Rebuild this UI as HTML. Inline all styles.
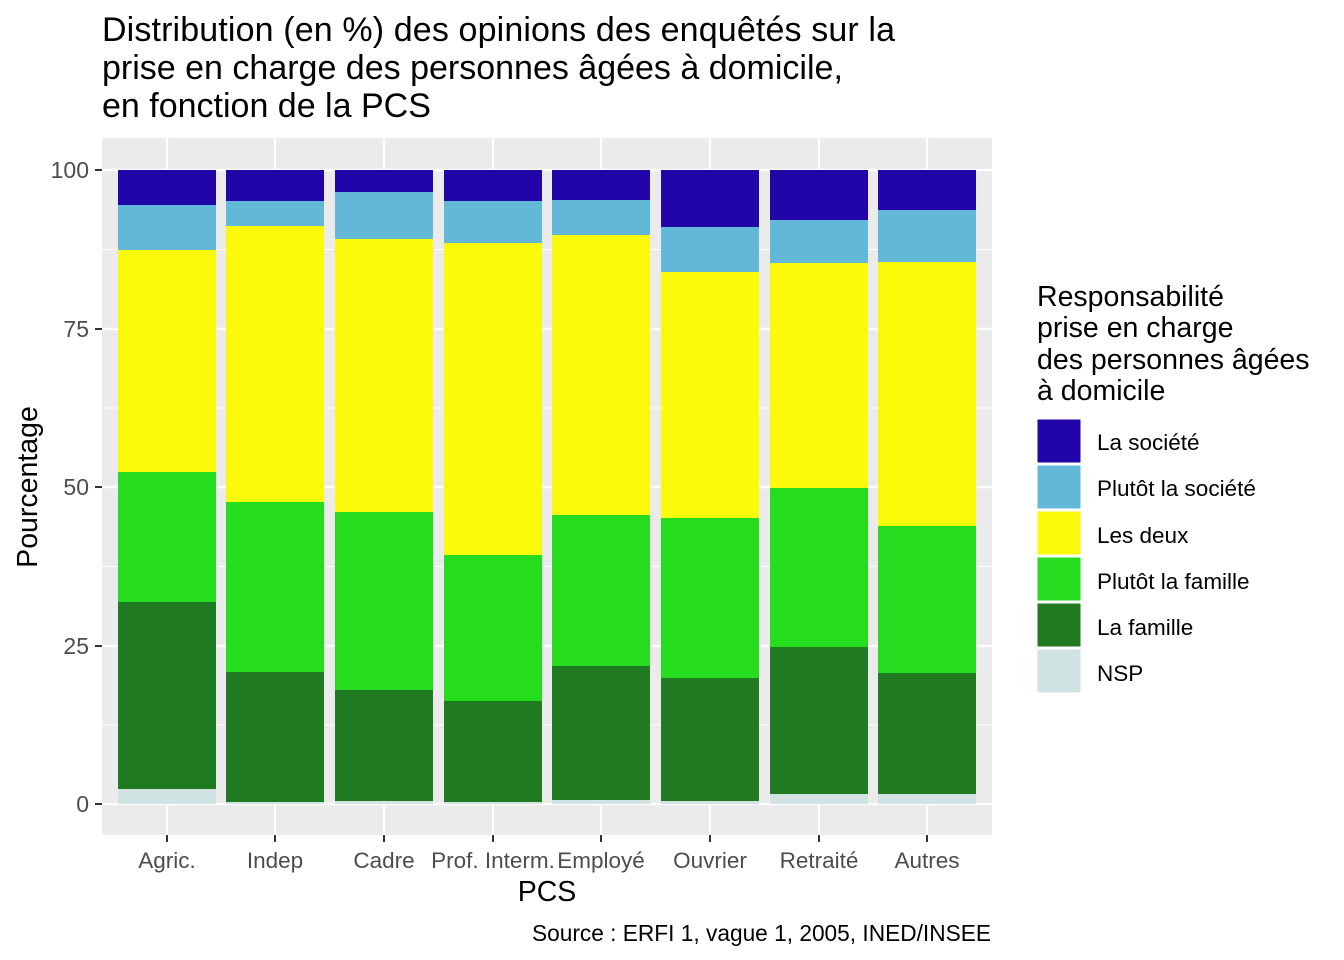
<!DOCTYPE html>
<html><head><meta charset="utf-8"><style>body{margin:0;background:#fff}svg{display:block;font-family:"Liberation Sans",sans-serif}</style></head><body>
<svg width="1344" height="960" xmlns="http://www.w3.org/2000/svg">
<rect width="1344" height="960" fill="#fff"/>
<text x="102" y="41" font-size="34" textLength="793">Distribution (en %) des opinions des enquêtés sur la</text>
<text x="102" y="79" font-size="34">prise en charge des personnes âgées à domicile,</text>
<text x="102" y="117" font-size="34">en fonction de la PCS</text>
<rect x="102" y="138" width="890" height="697" fill="#EBEBEB"/>
<g stroke="#fff" stroke-width="1.1">
<line x1="102" x2="992" y1="249.5" y2="249.5"/><line x1="102" x2="992" y1="408" y2="408"/><line x1="102" x2="992" y1="566.5" y2="566.5"/><line x1="102" x2="992" y1="725" y2="725"/>
</g>
<g stroke="#fff" stroke-width="2.2">
<line x1="102" x2="992" y1="170" y2="170"/><line x1="102" x2="992" y1="329" y2="329"/><line x1="102" x2="992" y1="487" y2="487"/><line x1="102" x2="992" y1="646" y2="646"/><line x1="102" x2="992" y1="804" y2="804"/>
<line y1="138" y2="835" x1="167" x2="167"/><line y1="138" y2="835" x1="275" x2="275"/><line y1="138" y2="835" x1="384" x2="384"/><line y1="138" y2="835" x1="493" x2="493"/><line y1="138" y2="835" x1="601" x2="601"/><line y1="138" y2="835" x1="710" x2="710"/><line y1="138" y2="835" x1="819" x2="819"/><line y1="138" y2="835" x1="927" x2="927"/>
</g>
<g>
<rect x="118" y="170" width="98" height="35" fill="#2205A8"/><rect x="118" y="205" width="98" height="45" fill="#63B8D8"/><rect x="118" y="250" width="98" height="222" fill="#FAFA0A"/><rect x="118" y="472" width="98" height="130" fill="#26DC1E"/><rect x="118" y="602" width="98" height="187" fill="#1F7A21"/><rect x="118" y="789" width="98" height="15" fill="#D0E2E2"/>
<rect x="226" y="170" width="98" height="31" fill="#2205A8"/><rect x="226" y="201" width="98" height="25" fill="#63B8D8"/><rect x="226" y="226" width="98" height="276" fill="#FAFA0A"/><rect x="226" y="502" width="98" height="170" fill="#26DC1E"/><rect x="226" y="672" width="98" height="130" fill="#1F7A21"/><rect x="226" y="802" width="98" height="2" fill="#D0E2E2"/>
<rect x="335" y="170" width="98" height="22" fill="#2205A8"/><rect x="335" y="192" width="98" height="47" fill="#63B8D8"/><rect x="335" y="239" width="98" height="273" fill="#FAFA0A"/><rect x="335" y="512" width="98" height="178" fill="#26DC1E"/><rect x="335" y="690" width="98" height="111" fill="#1F7A21"/><rect x="335" y="801" width="98" height="3" fill="#D0E2E2"/>
<rect x="444" y="170" width="98" height="31" fill="#2205A8"/><rect x="444" y="201" width="98" height="42" fill="#63B8D8"/><rect x="444" y="243" width="98" height="312" fill="#FAFA0A"/><rect x="444" y="555" width="98" height="146" fill="#26DC1E"/><rect x="444" y="701" width="98" height="101" fill="#1F7A21"/><rect x="444" y="802" width="98" height="2" fill="#D0E2E2"/>
<rect x="552" y="170" width="98" height="30" fill="#2205A8"/><rect x="552" y="200" width="98" height="35" fill="#63B8D8"/><rect x="552" y="235" width="98" height="280" fill="#FAFA0A"/><rect x="552" y="515" width="98" height="151" fill="#26DC1E"/><rect x="552" y="666" width="98" height="134" fill="#1F7A21"/><rect x="552" y="800" width="98" height="4" fill="#D0E2E2"/>
<rect x="661" y="170" width="98" height="57" fill="#2205A8"/><rect x="661" y="227" width="98" height="45" fill="#63B8D8"/><rect x="661" y="272" width="98" height="246" fill="#FAFA0A"/><rect x="661" y="518" width="98" height="160" fill="#26DC1E"/><rect x="661" y="678" width="98" height="123" fill="#1F7A21"/><rect x="661" y="801" width="98" height="3" fill="#D0E2E2"/>
<rect x="770" y="170" width="98" height="50" fill="#2205A8"/><rect x="770" y="220" width="98" height="43" fill="#63B8D8"/><rect x="770" y="263" width="98" height="225" fill="#FAFA0A"/><rect x="770" y="488" width="98" height="159" fill="#26DC1E"/><rect x="770" y="647" width="98" height="147" fill="#1F7A21"/><rect x="770" y="794" width="98" height="10" fill="#D0E2E2"/>
<rect x="878" y="170" width="98" height="40" fill="#2205A8"/><rect x="878" y="210" width="98" height="52" fill="#63B8D8"/><rect x="878" y="262" width="98" height="264" fill="#FAFA0A"/><rect x="878" y="526" width="98" height="147" fill="#26DC1E"/><rect x="878" y="673" width="98" height="121" fill="#1F7A21"/><rect x="878" y="794" width="98" height="10" fill="#D0E2E2"/>
</g>
<g font-size="23" fill="#4D4D4D" text-anchor="end">
<text x="89" y="178">100</text><text x="89" y="337">75</text><text x="89" y="495">50</text><text x="89" y="654">25</text><text x="89" y="812">0</text>
</g>
<g stroke="#333" stroke-width="2">
<line x1="95" x2="102" y1="170" y2="170"/><line x1="95" x2="102" y1="329" y2="329"/><line x1="95" x2="102" y1="487" y2="487"/><line x1="95" x2="102" y1="646" y2="646"/><line x1="95" x2="102" y1="804" y2="804"/>
<line y1="835" y2="842" x1="167" x2="167"/><line y1="835" y2="842" x1="275" x2="275"/><line y1="835" y2="842" x1="384" x2="384"/><line y1="835" y2="842" x1="493" x2="493"/><line y1="835" y2="842" x1="601" x2="601"/><line y1="835" y2="842" x1="710" x2="710"/><line y1="835" y2="842" x1="819" x2="819"/><line y1="835" y2="842" x1="927" x2="927"/>
</g>
<g font-size="22.5" fill="#4D4D4D" text-anchor="middle">
<text x="167" y="868">Agric.</text><text x="275" y="868">Indep</text><text x="384" y="868">Cadre</text><text x="493" y="868">Prof. Interm.</text><text x="601" y="868">Employé</text><text x="710" y="868">Ouvrier</text><text x="819" y="868">Retraité</text><text x="927" y="868">Autres</text>
</g>
<text x="547" y="901" font-size="28.5" text-anchor="middle">PCS</text>
<text transform="translate(37,487) rotate(-90)" font-size="28.5" text-anchor="middle">Pourcentage</text>
<text x="991" y="941" font-size="22.7" text-anchor="end">Source : ERFI 1, vague 1, 2005, INED/INSEE</text>
<g font-size="28.5"><text x="1037" y="306">Responsabilité</text><text x="1037" y="337">prise en charge</text><text x="1037" y="369">des personnes âgées</text><text x="1037" y="400">à domicile</text></g>
<g stroke="#fff" stroke-width="1">
<rect x="1037" y="419" width="44" height="44" fill="#2205A8"/>
<rect x="1037" y="465" width="44" height="44" fill="#63B8D8"/>
<rect x="1037" y="511" width="44" height="44" fill="#FAFA0A"/>
<rect x="1037" y="557" width="44" height="44" fill="#26DC1E"/>
<rect x="1037" y="603" width="44" height="44" fill="#1F7A21"/>
<rect x="1037" y="649" width="44" height="44" fill="#D0E2E2"/>
</g>
<g font-size="22.5"><text x="1097" y="450">La société</text><text x="1097" y="496">Plutôt la société</text><text x="1097" y="543">Les deux</text><text x="1097" y="589">Plutôt la famille</text><text x="1097" y="635">La famille</text><text x="1097" y="681">NSP</text></g>
</svg>
</body></html>
